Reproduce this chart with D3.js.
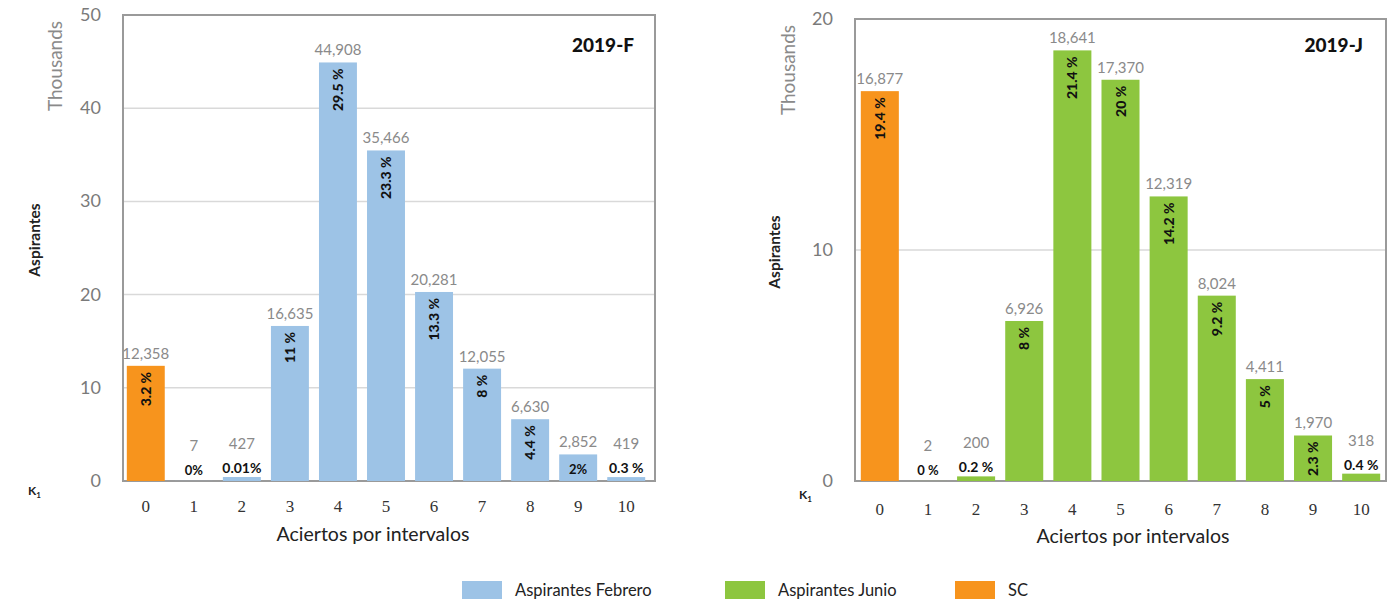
<!DOCTYPE html>
<html><head><meta charset="utf-8">
<script src="https://cdn.jsdelivr.net/npm/d3@7"></script>
<style>body{margin:0;background:#fff}svg{display:block}</style>
</head><body>
<svg id="c" width="1398" height="602"></svg>
<script>
const categories = ["0","1","2","3","4","5","6","7","8","9","10"];
const febValues = [12358, 7, 427, 16635, 44908, 35466, 20281, 12055, 6630, 2852, 419];
const febPct = ["3.2 %","0%","0.01%","11 %","29.5 %","23.3 %","13.3 %","8 %","4.4 %","2%","0.3 %"];
const junValues = [16877, 2, 200, 6926, 18641, 17370, 12319, 8024, 4411, 1970, 318];
const junPct = ["19.4 %","0 %","0.2 %","8 %","21.4 %","20 %","14.2 %","9.2 %","5 %","2.3 %","0.4 %"];
const febTicks = [0,10,20,30,40,50];
const junTicks = [0,10,20];
const legendItems = ["Aspirantes Febrero","Aspirantes Junio","SC"];
const colors = {feb:"#9dc3e6", jun:"#8dc63f", sc:"#f7941d"};

const svg = d3.select("#c");
const fmt = d3.format(",");

function drawChart(o){
  const g = svg.append("g");
  const y = d3.scaleLinear().domain([0,o.max]).range([481,o.top]);
  const x = d3.scaleBand().domain(categories).range(o.xr).paddingInner(0.21).paddingOuter(0.1);
  const y0 = y(0);
  g.selectAll(".grid").data(o.ticks.filter(t=>t>0 && t<o.max)).enter().append("line")
    .attr("x1",o.fx[0]).attr("x2",o.fx[1]).attr("y1",d=>y(d*1000)).attr("y2",d=>y(d*1000))
    .attr("stroke","#d9d9d9").attr("stroke-width",1.5);
  g.append("rect").attr("x",o.fx[0]).attr("y",o.top).attr("width",o.fx[1]-o.fx[0]).attr("height",y0-o.top)
    .attr("fill","none").attr("stroke","#9a9a9a").attr("stroke-width",2);
  g.selectAll(".yt").data(o.ticks).enter().append("text")
    .attr("x",o.tickX).attr("y",d=>y(d*1000)+6).attr("text-anchor","end")
    .attr("font-family","Lato, sans-serif").attr("font-size",18).attr("fill","#7a7a7a").text(d=>d);
  const data = o.values.map((v,i)=>({c:categories[i],v,p:o.pct[i],i}));
  g.selectAll(".bar").data(data).enter().append("rect")
    .attr("x",d=>x(d.c)).attr("width",x.bandwidth())
    .attr("y",d=>y(d.v)).attr("height",d=>Math.max(0,y0-y(d.v)))
    .attr("fill",d=>d.i===0?colors.sc:o.color);
  data.forEach(d=>{
    const cx = x(d.c)+x.bandwidth()/2;
    const top = y(d.v);
    const horiz = d.v/o.max < 0.08;
    let valY;
    if(horiz){
      let py;
      if(y0-top > 20){ py = y0-7; valY = top-7; }
      else { py = Math.min(y0-6, top-4); valY = py-24; }
      g.append("text").attr("x",cx).attr("y",py).attr("text-anchor","middle")
        .attr("font-family","Lato, sans-serif").attr("font-weight","bold").attr("font-size",d.p.length>4?14:13)
        .attr("fill","#111").text(d.p);
    } else {
      valY = top-7;
      g.append("text").attr("transform",`translate(${cx+5},${top+6}) rotate(-90)`)
        .attr("text-anchor","end")
        .attr("font-family","Lato, sans-serif").attr("font-weight","900").attr("font-size",14)
        .attr("fill","#111").text(d.p);
    }
    g.append("text").attr("x",cx).attr("y",valY).attr("text-anchor","middle")
      .attr("font-family","Lato, sans-serif").attr("font-size",15).attr("fill","#8a8a8a").text(fmt(d.v));
  });
  g.selectAll(".xt").data(categories).enter().append("text")
    .attr("x",d=>x(d)+x.bandwidth()/2).attr("y",o.xtY).attr("text-anchor","middle")
    .attr("font-family","Liberation Serif, serif").attr("font-size",17).attr("fill","#333").text(d=>d);
  const k = g.append("text").attr("x",o.kx).attr("y",o.ky).attr("font-family","Lato, sans-serif")
    .attr("font-weight","bold").attr("font-size",12).attr("fill","#222");
  k.append("tspan").text("K");
  k.append("tspan").attr("font-size",8).attr("dy",3).text("1");
  g.append("text").attr("x",o.atx).attr("y",o.aty).attr("text-anchor","middle")
    .attr("font-family","Lato, sans-serif").attr("font-size",19.5).attr("fill","#222").text("Aciertos por intervalos");
  g.append("text").attr("transform",`translate(${o.thx},${o.thy}) rotate(-90)`).attr("text-anchor","middle")
    .attr("font-family","Lato, sans-serif").attr("font-size",19).attr("fill","#8a8a8a").text("Thousands");
  g.append("text").attr("transform",`translate(${o.asx},${o.asy}) rotate(-90)`).attr("text-anchor","middle")
    .attr("font-family","Lato, sans-serif").attr("font-weight","bold").attr("font-size",15.5).attr("fill","#222").text("Aspirantes");
  g.append("text").attr("x",o.tx).attr("y",52).attr("text-anchor","end")
    .attr("font-family","Lato, sans-serif").attr("font-weight","900").attr("font-size",19).attr("fill","#111").text(o.title);
}

drawChart({values:febValues,pct:febPct,max:50000,ticks:febTicks,top:15,xr:[122,650],fx:[123,655],
  color:colors.feb,tickX:101,xtY:512,kx:28,ky:495,atx:373,aty:541,thx:62,thy:66,asx:40,asy:240,tx:634,title:"2019-F"});
drawChart({values:junValues,pct:junPct,max:20000,ticks:junTicks,top:19,xr:[856,1385],fx:[855,1386],
  color:colors.jun,tickX:833,xtY:515,kx:799,ky:499,atx:1133,aty:543,thx:795,thy:70,asx:780,asy:252,tx:1363,title:"2019-J"});

const lg = svg.append("g");
const lx = [462,725,955];
const lc = [colors.feb,colors.jun,colors.sc];
legendItems.forEach((t,i)=>{
  lg.append("rect").attr("x",lx[i]).attr("y",581).attr("width",40).attr("height",18).attr("fill",lc[i]);
  lg.append("text").attr("x",lx[i]+53).attr("y",596).attr("font-family","Lato, sans-serif")
    .attr("font-size",16.5).attr("fill","#222").text(t);
});
</script>
</body></html>
